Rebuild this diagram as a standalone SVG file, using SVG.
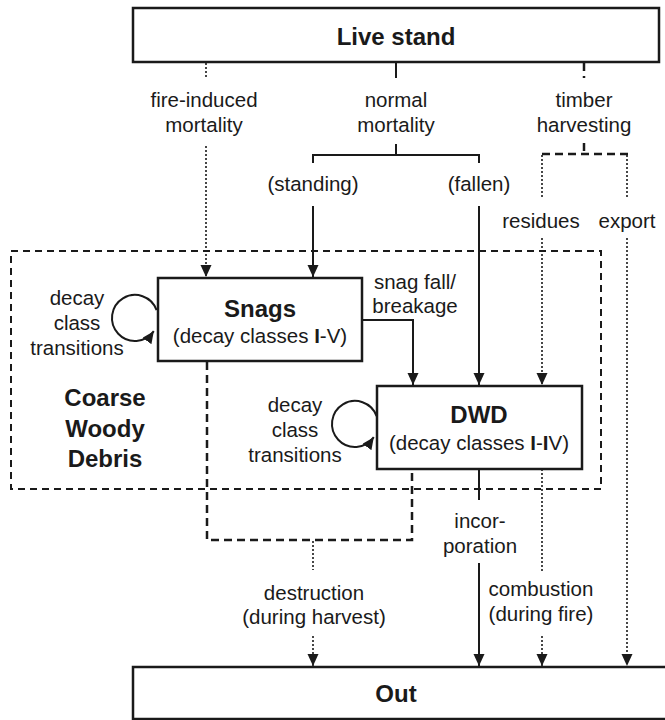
<svg xmlns="http://www.w3.org/2000/svg" width="665" height="720" viewBox="0 0 665 720">
<style>
text{font-family:"Liberation Sans",Arial,sans-serif;fill:#1a1a1a;text-anchor:middle}
.r{font-size:20.5px}
.b{font-size:24px;font-weight:bold}
.box{fill:#fff;stroke:#1a1a1a;stroke-width:2.5}
.s{fill:none;stroke:#1a1a1a;stroke-width:2}
.d{fill:none;stroke:#1a1a1a;stroke-width:2.5;stroke-dasharray:8 5}
.dt{fill:none;stroke:#1a1a1a;stroke-width:1.6;stroke-dasharray:2 2}
.cwd{fill:none;stroke:#1a1a1a;stroke-width:2;stroke-dasharray:7 5}
</style>
<defs>
<marker id="a" markerUnits="userSpaceOnUse" markerWidth="13" markerHeight="12" refX="12" refY="5.5" orient="auto">
<path d="M0,0 L12,5.5 L0,11 z" fill="#1a1a1a"/>
</marker>
</defs>
<rect id="cwd" class="cwd" x="11" y="251" width="590" height="238"/>
<g id="connectors">
<!-- fire-induced mortality -->
<line class="dt" x1="206" y1="63" x2="206" y2="78"/>
<path class="dt" d="M206,146 V277" marker-end="url(#a)"/>
<!-- normal mortality -->
<line class="s" x1="396" y1="63" x2="396" y2="78"/>
<path class="s" d="M396,144 V155 M313,163 V155 H479 V163"/>
<path class="s" d="M313,206 V277" marker-end="url(#a)"/>
<path class="s" d="M479,206 V385" marker-end="url(#a)"/>
<!-- timber harvesting -->
<line class="d" x1="584" y1="63" x2="584" y2="78" stroke-dasharray="6 3"/>
<line class="d" x1="584" y1="143" x2="584" y2="154" stroke-dasharray="6 3"/>
<line class="d" x1="542" y1="154" x2="628" y2="154"/>
<path class="dt" d="M542,155 V198 M627,155 V198"/>
<path class="dt" d="M542,238 V385" marker-end="url(#a)"/>
<path class="dt" d="M627,238 V666" marker-end="url(#a)"/>
<!-- snag fall -->
<path class="s" d="M362,320 H413 V385" marker-end="url(#a)"/>
<!-- loops -->
<path class="s" d="M156.6,310.1 A23,23 0 1 0 153.8,331.2" marker-end="url(#a)"/>
<path class="s" d="M376.6,416.1 A23,23 0 1 0 373.8,437.2" marker-end="url(#a)"/>
<!-- destruction -->
<path class="d" d="M207,362 V540 H412 V469"/>
<line class="dt" x1="313" y1="541" x2="313" y2="570"/>
<path class="dt" d="M313,636 V666" marker-end="url(#a)"/>
<!-- incorporation -->
<line class="s" x1="479" y1="469" x2="479" y2="500"/>
<path class="s" d="M479,563 V666" marker-end="url(#a)"/>
<!-- combustion -->
<line class="dt" x1="542" y1="469" x2="542" y2="572"/>
<path class="dt" d="M542,636 V666" marker-end="url(#a)"/>
</g>
<g id="live-stand">
<rect class="box" x="133" y="8" width="526" height="54"/>
<text class="b" x="396" y="45">Live stand</text>
</g>
<g id="snags">
<rect class="box" x="158" y="278" width="204" height="83"/>
<text class="b" x="260" y="317">Snags</text>
<text class="r" x="260" y="343">(decay classes <tspan font-weight="bold">I</tspan>-V)</text>
</g>
<g id="dwd">
<rect class="box" x="377" y="386" width="205" height="83"/>
<text class="b" x="479" y="423">DWD</text>
<text class="r" x="479" y="450">(decay classes <tspan font-weight="bold">I</tspan>-<tspan font-weight="bold">I</tspan>V)</text>
</g>
<g id="out">
<rect class="box" x="133" y="667" width="545" height="52"/>
<text class="b" x="396" y="702">Out</text>
</g>
<g id="labels">
<text class="r" x="204" y="107">fire-induced</text>
<text class="r" x="204" y="132">mortality</text>
<text class="r" x="396" y="107">normal</text>
<text class="r" x="396" y="132">mortality</text>
<text class="r" x="584" y="107">timber</text>
<text class="r" x="584" y="132">harvesting</text>
<text class="r" x="313" y="191">(standing)</text>
<text class="r" x="479" y="191">(fallen)</text>
<text class="r" x="541" y="228">residues</text>
<text class="r" x="627" y="228">export</text>
<text class="r" x="415" y="289">snag fall/</text>
<text class="r" x="415" y="313">breakage</text>
<text class="r" x="77" y="305">decay</text>
<text class="r" x="77" y="330">class</text>
<text class="r" x="77" y="355">transitions</text>
<text class="b" x="105" y="406">Coarse</text>
<text class="b" x="105" y="437">Woody</text>
<text class="b" x="105" y="467">Debris</text>
<text class="r" x="295" y="412">decay</text>
<text class="r" x="295" y="437">class</text>
<text class="r" x="295" y="462">transitions</text>
<text class="r" x="480" y="528">incor-</text>
<text class="r" x="480" y="553">poration</text>
<text class="r" x="314" y="600">destruction</text>
<text class="r" x="314" y="624">(during harvest)</text>
<text class="r" x="541" y="596">combustion</text>
<text class="r" x="541" y="621">(during fire)</text>
</g>
</svg>
